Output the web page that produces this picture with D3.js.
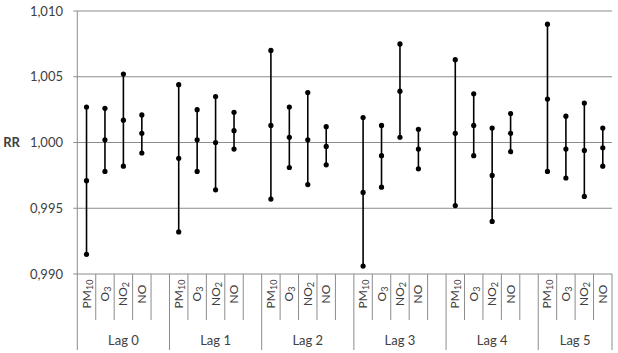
<!DOCTYPE html>
<html><head><meta charset="utf-8">
<script src="https://cdn.jsdelivr.net/npm/d3@7"></script>
<style>
body{margin:0;background:#fff;}
text{font-family:Lato,"Liberation Sans",sans-serif;}
</style></head>
<body><svg id="c" width="618" height="353"></svg>
<script>
const lags = ["Lag 0","Lag 1","Lag 2","Lag 3","Lag 4","Lag 5"];
const pollutants = [["PM","10"],["O","3"],["NO","2"],["NO",""]];
// per lag: PM10, O3, NO2, NO
const pointEst = [
  0.9971, 1.0002, 1.0017, 1.0007,
  0.9988, 1.0002, 1.0000, 1.0009,
  1.0013, 1.0004, 1.0002, 0.9997,
  0.9962, 0.9990, 1.0039, 0.9995,
  1.0007, 1.0013, 0.9975, 1.0007,
  1.0033, 0.9995, 0.9994, 0.9996
];
const lowerCI = [
  0.9915, 0.9978, 0.9982, 0.9992,
  0.9932, 0.9978, 0.9964, 0.9995,
  0.9957, 0.9981, 0.9968, 0.9983,
  0.9906, 0.9966, 1.0004, 0.9980,
  0.9952, 0.9990, 0.9940, 0.9993,
  0.9978, 0.9973, 0.9959, 0.9982
];
const upperCI = [
  1.0027, 1.0026, 1.0052, 1.0021,
  1.0044, 1.0025, 1.0035, 1.0023,
  1.0070, 1.0027, 1.0038, 1.0012,
  1.0019, 1.0013, 1.0075, 1.0010,
  1.0063, 1.0037, 1.0011, 1.0022,
  1.0090, 1.0020, 1.0030, 1.0011
];
const yTicks = [0.990, 0.995, 1.000, 1.005, 1.010];
const yLabel = "RR";

const svg = d3.select("#c");
const L = 77.3, R = 612, T = 11, B = 274;

// slots: 4 pollutants + spacer per lag (no spacer after last)
const slots = [];
lags.forEach((lag, g) => {
  pollutants.forEach((p, i) => slots.push(g + "|" + i));
  if (g < lags.length - 1) slots.push(g + "|s");
});
const x = d3.scaleBand().domain(slots).range([L, R]).padding(0);
const y = d3.scaleLinear().domain([0.990, 1.010]).range([B, T]);
const fmt = d3.formatLocale({decimal: ",", thousands: ".", grouping: [3], currency: ["", ""]}).format(".3f");

// gridlines
svg.append("g").selectAll("line").data(yTicks).join("line")
  .attr("x1", L - 4).attr("x2", R)
  .attr("y1", d => y(d)).attr("y2", d => y(d))
  .attr("stroke", "#8c8c8c").attr("stroke-width", 1);

// y tick labels
svg.append("g").selectAll("text").data(yTicks).join("text")
  .attr("x", 63).attr("y", d => y(d)).attr("dy", "0.35em")
  .attr("text-anchor", "end").attr("font-size", 13).attr("fill", "#404040")
  .text(d => fmt(d));

svg.append("text").attr("x", 11.5).attr("y", y(1.0)).attr("dy", "0.35em")
  .attr("text-anchor", "middle").attr("font-size", 13).attr("font-weight", "bold")
  .attr("fill", "#404040").text(yLabel);

// vertical axis line
svg.append("line").attr("x1", L).attr("x2", L).attr("y1", T).attr("y2", 350)
  .attr("stroke", "#8c8c8c");

// category separators
const sep = svg.append("g");
slots.forEach((s, k) => {
  const xr = x(s) + x.bandwidth();
  const isGroupEnd = k === slots.length - 1 || s.endsWith("|s");
  sep.append("line").attr("x1", xr).attr("x2", xr).attr("y1", B)
    .attr("y2", isGroupEnd ? 350 : 320).attr("stroke", "#8c8c8c");
});

// pollutant labels (rotated)
const cats = [];
lags.forEach((lag, g) => pollutants.forEach((p, i) => cats.push({g, i, p})));
const lab = svg.append("g").selectAll("text").data(cats).join("text")
  .attr("transform", d => `translate(${x(d.g + "|" + d.i) + x.bandwidth() / 2 + 4},294) rotate(-90)`)
  .attr("text-anchor", "middle").attr("font-size", 12).attr("fill", "#404040");
lab.append("tspan").text(d => d.p[0]);
lab.filter(d => d.p[1]).append("tspan").attr("font-size", 9).attr("dy", 2).text(d => d.p[1]);

// lag labels
svg.append("g").selectAll("text").data(lags).join("text")
  .attr("x", (d, g) => {
    const a = x(g + "|0"), b = x(g + "|3") + x.bandwidth();
    const end = g < lags.length - 1 ? x(g + "|s") + x.bandwidth() : b;
    return (a + end) / 2;
  })
  .attr("y", 340).attr("dy", "0.35em").attr("text-anchor", "middle")
  .attr("font-size", 13).attr("fill", "#404040").text(d => d);

// error bars
const marks = svg.append("g");
cats.forEach((c, k) => {
  const cx = x(c.g + "|" + c.i) + x.bandwidth() / 2;
  marks.append("line").attr("x1", cx).attr("x2", cx)
    .attr("y1", y(lowerCI[k])).attr("y2", y(upperCI[k]))
    .attr("stroke", "#000").attr("stroke-width", 1.6);
  [lowerCI[k], pointEst[k], upperCI[k]].forEach(v => {
    marks.append("circle").attr("cx", cx).attr("cy", y(v)).attr("r", 2.6).attr("fill", "#000");
  });
});
</script></body></html>
